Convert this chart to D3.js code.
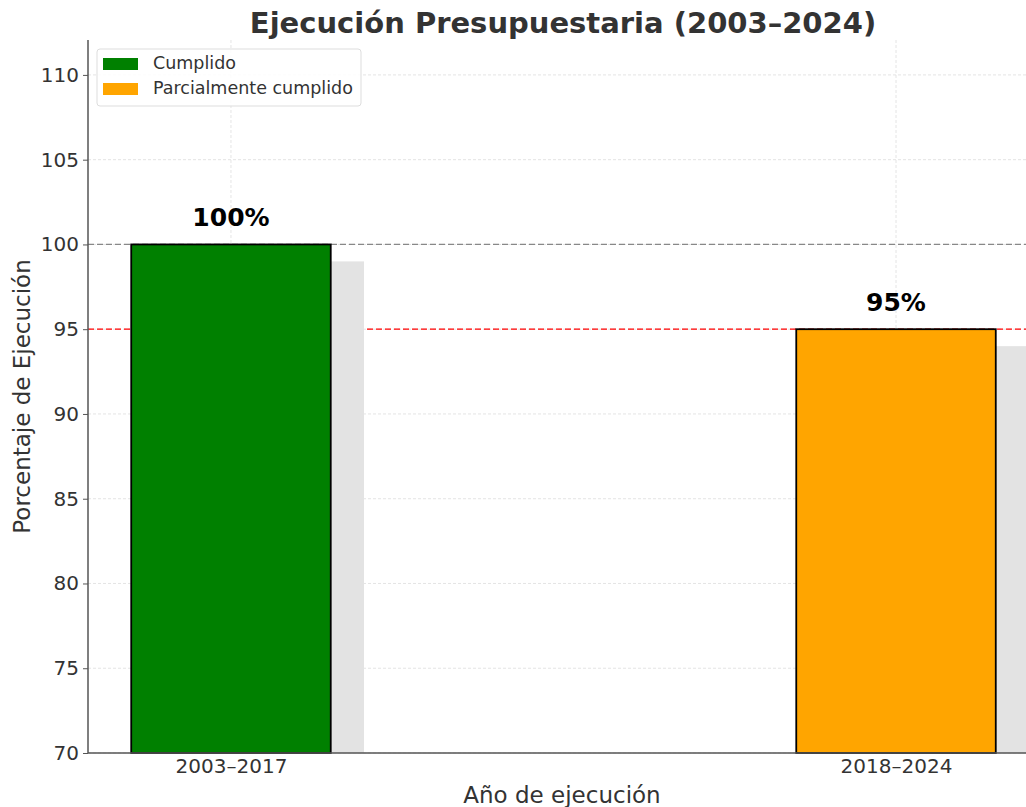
<!DOCTYPE html>
<meta charset="utf-8">
<script src="https://d3js.org/d3.v7.min.js"></script>
<style>
  * {margin: 0; padding: 0;}
  body {background: #fff;}
  text {font-family: "DejaVu Sans", sans-serif;}
  .ycustom text, .xcustom text {fill: #333; font-size: 20px;}
  .ycustom path, .xcustom path {stroke: #555; stroke-width: 1.5;}
  .ycustom line, .xcustom line {stroke: #555;}
</style>
<body>
<div id="my_dataviz"></div>
<script>
// data
var periods = ["2003–2017", "2018–2024"];
var values = [100, 95];
var shadowValues = [99, 94];
var barColors = ["green", "orange"];
var legendLabels = ["Cumplido", "Parcialmente cumplido"];
var yTicks = [70, 75, 80, 85, 90, 95, 100, 105, 110];

var W = 1026, H = 807;
var margin = {top: 40, right: -11, bottom: 54, left: 88},
    width = W - margin.left - margin.right,
    height = H - margin.top - margin.bottom;

var svg = d3.select("#my_dataviz")
  .append("svg")
    .attr("width", W)
    .attr("height", H)
  .append("g")
    .attr("transform", "translate(" + margin.left + "," + margin.top + ")");

// x: category index as number, bar width 0.3, shadow offset 0.05
var x = d3.scaleLinear()
  .domain([-0.215, 1.212])
  .range([0, width]);

var y = d3.scaleLinear()
  .domain([70, 112.06])
  .range([height, 0]);

var bw = x(0.3) - x(0);
var off = x(0.05) - x(0);

// grid
svg.append("g")
  .selectAll("line")
  .data(yTicks)
  .enter().append("line")
    .attr("x1", 0).attr("x2", width)
    .attr("y1", function(d) { return y(d); })
    .attr("y2", function(d) { return y(d); })
    .attr("stroke", "#ddd")
    .attr("stroke-dasharray", "3,2")
    .attr("stroke-width", 0.8);

svg.append("g")
  .selectAll("line")
  .data(periods)
  .enter().append("line")
    .attr("x1", function(d, i) { return x(i); })
    .attr("x2", function(d, i) { return x(i); })
    .attr("y1", 0).attr("y2", height)
    .attr("stroke", "#ddd")
    .attr("stroke-dasharray", "3,2")
    .attr("stroke-width", 0.8);

// reference lines
svg.append("line")
  .attr("x1", 0).attr("x2", width)
  .attr("y1", y(100)).attr("y2", y(100))
  .attr("stroke", "#888")
  .attr("stroke-dasharray", "6,3")
  .attr("stroke-width", 1.2);

svg.append("line")
  .attr("x1", 0).attr("x2", width)
  .attr("y1", y(95)).attr("y2", y(95))
  .attr("stroke", "#f00")
  .attr("stroke-dasharray", "6,3")
  .attr("stroke-width", 1.2);

// shadow bars
svg.append("g")
  .selectAll("rect")
  .data(shadowValues)
  .enter().append("rect")
    .attr("x", function(d, i) { return x(i) - bw / 2 + off; })
    .attr("y", function(d) { return y(d); })
    .attr("width", bw)
    .attr("height", function(d) { return height - y(d); })
    .attr("fill", "#e3e3e3");

// bars
svg.append("g")
  .selectAll("rect")
  .data(values)
  .enter().append("rect")
    .attr("x", function(d, i) { return x(i) - bw / 2; })
    .attr("y", function(d) { return y(d); })
    .attr("width", bw)
    .attr("height", function(d) { return height - y(d); })
    .attr("fill", function(d, i) { return barColors[i]; })
    .attr("stroke", "#000")
    .attr("stroke-width", 1.8);

// value labels
svg.append("g")
  .selectAll("text")
  .data(values)
  .enter().append("text")
    .attr("x", function(d, i) { return x(i); })
    .attr("y", function(d) { return y(d) - 18; })
    .attr("text-anchor", "middle")
    .attr("font-size", "25px")
    .attr("font-weight", "bold")
    .attr("fill", "#000")
    .text(function(d) { return d + "%"; });

// axes
svg.append("g")
  .attr("class", "ycustom")
  .call(d3.axisLeft(y).tickValues(yTicks).tickSize(5).tickPadding(4))
  .call(function(g) { g.select(".domain").attr("d", "M0," + height + "V0"); });

svg.append("g")
  .attr("class", "xcustom")
  .attr("transform", "translate(0," + height + ")")
  .call(d3.axisBottom(x).tickValues([0, 1]).tickFormat(function(d) { return periods[d]; }).tickSize(0).tickPadding(6))
  .call(function(g) { g.select(".domain").attr("d", "M0,0H" + width); });

// axis labels
svg.append("text")
  .attr("x", 562 - margin.left)
  .attr("y", height + 50)
  .attr("text-anchor", "middle")
  .attr("font-size", "23px")
  .attr("fill", "#333")
  .text("Año de ejecución");

svg.append("text")
  .attr("transform", "translate(" + (-58) + "," + (height / 2) + ") rotate(-90)")
  .attr("text-anchor", "middle")
  .attr("font-size", "23px")
  .attr("fill", "#333")
  .text("Porcentaje de Ejecución");

// title
svg.append("text")
  .attr("x", 563 - margin.left)
  .attr("y", -7)
  .attr("text-anchor", "middle")
  .attr("font-size", "29px")
  .attr("font-weight", "bold")
  .attr("fill", "#333")
  .text("Ejecución Presupuestaria (2003–2024)");

// legend
var legend = svg.append("g")
  .attr("transform", "translate(" + (97 - margin.left) + "," + (49 - margin.top) + ")");

legend.append("rect")
  .attr("width", 264).attr("height", 57)
  .attr("rx", 3)
  .attr("fill", "#fff").attr("fill-opacity", 0.85)
  .attr("stroke", "#ddd");

legendLabels.forEach(function(lab, i) {
  legend.append("rect")
    .attr("x", 6).attr("y", 9 + i * 25)
    .attr("width", 35).attr("height", 12)
    .attr("fill", barColors[i]);
  legend.append("text")
    .attr("x", 56).attr("y", 20 + i * 25)
    .attr("font-size", "17.5px")
    .attr("fill", "#333")
    .text(lab);
});
</script>
</body>
